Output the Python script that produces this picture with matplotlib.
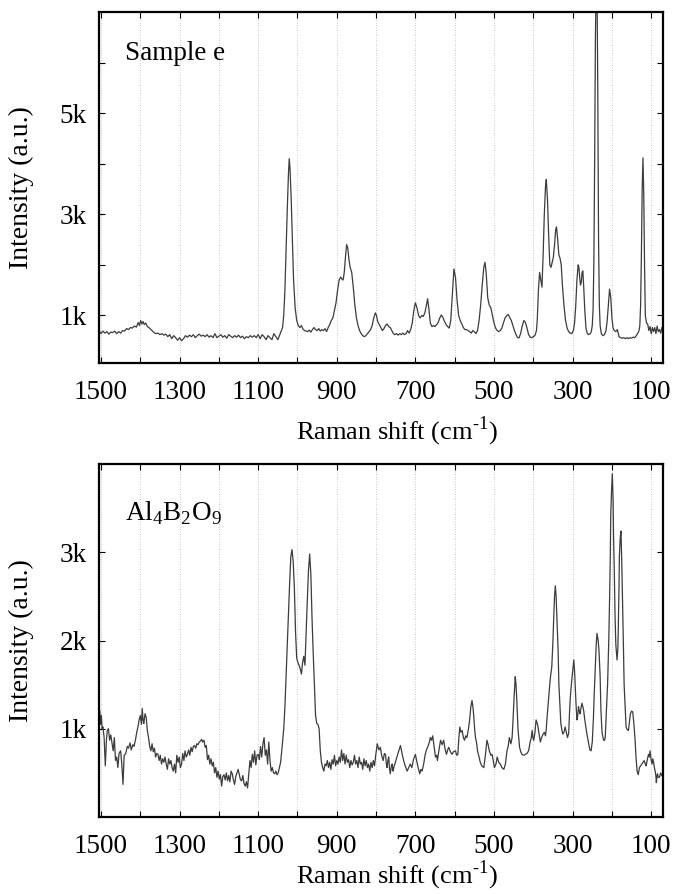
#!/usr/bin/env python
# -*- coding: utf-8 -*-
import numpy as np
import matplotlib
matplotlib.use('Agg')
import matplotlib.pyplot as plt
import matplotlib.ticker as tck

## ---------------------------- DATOS ---------------------------- ##

# Espectro superior: Sample e  (desplazamiento Raman cm-1, intensidad u.a.)
shift_e = [1505, 1500, 1495, 1490, 1485, 1480, 1475, 1470, 1465, 1460, 1455, 1450, 1445, 1440,
           1435, 1430, 1425, 1420, 1415, 1410, 1405, 1402, 1399, 1396, 1393, 1390, 1386, 1382, 1378, 1374, 1370, 1365, 1360,
           1355, 1350, 1345, 1340, 1335, 1330, 1325, 1320, 1315, 1310, 1305, 1300, 1295, 1290, 1285, 1280, 1275, 1270, 1265, 1260,
           1255, 1250, 1245, 1240, 1235, 1230, 1225, 1220, 1215, 1210, 1205, 1200, 1195, 1190, 1185, 1180, 1175, 1170, 1165, 1160,
           1155, 1150, 1145, 1140, 1135, 1130, 1125, 1120, 1115, 1110, 1105, 1100, 1095, 1090, 1085, 1080, 1075, 1070, 1065, 1060,
           1055, 1050,
           1046, 1042, 1038, 1035, 1032, 1029, 1026, 1023, 1021, 1019, 1016, 1013, 1010, 1006, 1002, 998,
           994, 990, 986, 982, 978, 974, 970, 966, 962, 958, 954, 950, 946, 942, 938, 934, 930, 926, 922, 918,
           914, 910, 906, 902, 898, 894, 890, 887, 884, 881, 878, 875, 872, 869, 866, 862, 858, 854, 850, 846, 842, 838, 834, 830,
           826, 822, 818, 814, 810, 806, 802, 799, 796, 792, 788, 784, 780, 776, 772, 768, 764, 760, 756, 752,
           748, 744, 740, 736, 732, 728, 724, 720, 716, 712,
           708, 704, 700, 696, 692, 688, 684, 680, 676, 672, 669, 666, 662, 658, 654, 650, 646, 642, 638, 634,
           630, 626, 622, 618, 614, 610, 606, 602, 598, 594, 590, 586, 582, 578, 574, 570, 566, 562, 558, 554, 550, 546, 542,
           538, 534, 530, 526, 523, 520, 516, 512, 508, 504, 500, 496, 492, 488, 484, 480, 476, 472, 468, 464,
           460, 456, 452, 448, 444, 440, 436, 432, 428, 424, 420, 416, 412, 408, 404, 400, 396,
           392, 390, 387, 384, 381, 378, 375, 372, 369, 367, 364, 361, 358, 355, 352, 349, 346, 343, 341, 338,
           335, 332, 329, 326, 322, 318, 314, 310, 306, 302,
           298, 295, 292, 289, 286, 284, 282, 280, 278, 276, 274, 272, 269, 266, 263, 260, 257, 254, 252,
           250, 248, 246, 244, 242, 240, 238, 236, 234, 232, 230,
           227, 223, 219, 215, 212, 209, 206, 203, 200, 197, 194, 190, 186, 182, 178, 174, 170, 166, 162, 158,
           154, 150, 146, 142, 138, 134,
           131, 129, 127, 125, 123, 121, 119, 117, 115, 112, 109, 106, 103, 100, 97, 94, 91, 88, 85, 82,
           79, 76, 73, 70]
inten_e = [700, 640, 690, 650, 680, 630, 670, 660, 690, 640, 680, 650, 700, 690,
           740, 720, 760, 750, 790, 770, 860, 800, 900, 830, 880, 820, 850, 780, 760, 730, 700, 660, 640,
           650, 620, 640, 610, 630, 580, 620, 540, 600, 560, 510, 560, 500, 540, 600, 570, 610, 580, 620, 560,
           600, 630, 590, 610, 580, 620, 570, 600, 560, 640, 560, 590, 620, 570, 600, 550, 620, 590, 560, 600,
           570, 610, 560, 590, 540, 580, 560, 600, 570, 600, 560, 620, 540, 620, 580, 520, 600, 560, 520, 640,
           580, 520,
           600, 680, 760, 1000, 1500, 2300, 3100, 3800, 4100, 3900, 3300, 2500, 1700, 1150, 900, 800,
           760, 800, 730, 700, 690, 680, 710, 670, 720, 760, 720, 700, 740, 690, 720, 700, 740, 680, 760, 820,
           900, 950, 1100, 1250, 1500, 1700, 1760, 1720, 1700, 1850, 2150, 2400, 2330, 2100, 1950, 1850, 1550, 1200, 950, 800,
           700, 640, 600, 580,
           600, 640, 680, 720, 800, 950, 1050, 1000, 880, 820, 760, 700, 740, 800, 830, 780, 760, 700, 640, 620,
           640, 610, 640, 620, 650, 620, 640, 700, 650, 720,
           850, 1100, 1250, 1150, 1000, 950, 1000, 980, 1050, 1200, 1330, 1150, 850, 780, 800, 780, 820, 860, 950, 1010,
           960, 880, 820, 780, 750, 900, 1400, 1920, 1750, 1300, 1000, 900, 830, 760, 720, 720, 700, 680, 650, 700, 680, 640, 700,
           900, 1200, 1600, 1950, 2050, 1850, 1350, 1200, 1150, 1000, 850, 750, 700, 680, 700, 750, 850, 950, 990, 1020,
           960, 900, 800, 700, 620, 560, 560, 650, 800, 900, 860, 750, 620, 570, 560, 580, 600,
           700, 900, 1500, 1850, 1700, 1560, 2200, 3000, 3550, 3690, 3300, 2600, 2000, 1950, 2050, 2150, 2400, 2700, 2750, 2500,
           2200, 2130, 2000, 1600, 1200, 900, 750, 680, 650, 640,
           700, 850, 1200, 1700, 2000, 1950, 1750, 1600, 1650, 1850, 1880, 1600, 1100, 750, 650, 620, 630, 650, 700,
           800, 1100, 2000, 4000, 6500, 7600, 7600, 5500, 2500, 1200, 800,
           640, 600, 620, 700, 900, 1200, 1520, 1350, 950, 750, 700, 680, 720, 580, 560, 550, 560, 540, 560, 540,
           560, 550, 570, 560, 600, 650,
           700, 800, 1200, 2200, 3500, 4115, 3400, 2000, 1000, 850, 830, 700, 780, 640, 760, 680, 760, 640, 790, 680,
           720, 650, 760, 720]

# Espectro inferior: Al4B2O9
shift_ab = [1503, 1501, 1499, 1497, 1495, 1492, 1489, 1486, 1484, 1481, 1478, 1475, 1472, 1469, 1466, 1463, 1460, 1457, 1454, 1450,
            1447, 1444, 1441,
            1437, 1433, 1430, 1426, 1423, 1419, 1416, 1412, 1409, 1406, 1403, 1400, 1397, 1395, 1393, 1391, 1388, 1385, 1382, 1379,
            1376, 1373, 1370, 1367, 1364, 1361, 1358, 1355, 1352, 1349, 1346, 1343, 1340,
            1337, 1334, 1331, 1328, 1325, 1322, 1319, 1316, 1313, 1310, 1307, 1304, 1301, 1298, 1295, 1292, 1289, 1286, 1283, 1280,
            1277, 1274, 1271, 1268, 1265, 1262, 1259, 1256, 1253, 1250,
            1247, 1244, 1241, 1238, 1235, 1232, 1229, 1226, 1223, 1220, 1217, 1214, 1211, 1208, 1205, 1202, 1199, 1196, 1193, 1190,
            1187, 1184, 1181,
            1178, 1175, 1172, 1169, 1166, 1163, 1160, 1157, 1154, 1151, 1148, 1145, 1142, 1139, 1136, 1133, 1130, 1127, 1124, 1121,
            1118, 1115, 1112, 1109, 1106, 1103, 1100, 1097, 1094, 1091, 1088, 1085, 1082, 1079, 1076, 1073, 1070, 1067, 1064, 1061,
            1058, 1055, 1052, 1049, 1046,
            1043, 1039, 1035, 1032, 1029, 1026, 1023, 1020, 1017, 1014, 1011, 1008, 1005, 1002, 999, 996, 993, 990, 987, 984,
            981, 978, 975, 972, 969, 966, 963, 960, 957, 954, 951, 948, 945, 942, 939,
            936, 933, 930, 927, 924, 921, 918, 915, 912, 909, 906, 903, 900, 897, 894, 891, 888, 885, 882, 879,
            876, 873, 870, 867, 864, 861, 858, 855, 852, 849, 846, 843, 840, 837, 834, 831, 828, 825, 822, 819,
            816, 813, 810, 807, 804, 801,
            797, 793, 789, 786, 782, 779, 776, 774, 772, 770, 768, 766, 764, 761, 759, 757, 755, 751, 747, 743,
            738, 734, 730, 726, 721, 717, 713, 709, 705, 700,
            696, 693, 689, 686, 683, 679, 675, 672, 669, 665, 662, 659, 656, 652, 649, 646, 644, 640, 636, 632,
            628, 625, 621, 618, 615, 611, 607, 603, 598, 595, 592, 590, 587, 584, 581, 578, 575, 572, 569, 565, 562,
            559, 556, 554, 552, 549, 547, 544, 542, 538, 535, 531, 526, 522, 518, 515, 512, 508, 505, 502, 499,
            495, 492, 488, 484, 480, 475, 471,
            467, 464, 461, 457, 454, 452, 449, 446, 444, 442, 439, 435, 432, 429, 425, 420, 416, 412, 408, 405, 403, 401,
            399, 396, 393, 390, 388, 385, 382, 379, 375, 372, 369, 367, 365, 362, 360, 358, 356, 353, 350, 348,
            346, 344, 342, 340, 337, 335, 332, 330, 327, 325, 322, 319, 316, 313, 310, 308, 306, 303,
            300, 297, 295, 293, 291, 289, 287, 285, 283, 281, 279, 276, 274, 272, 269, 265, 262, 259, 256, 253,
            250, 247, 245, 242, 240, 238, 235, 233, 230, 228, 225, 221, 219, 217, 215, 213,
            211, 208, 206, 204, 203, 201, 199, 197, 196, 194, 192, 190, 187, 185, 184, 182, 181, 179, 177, 175,
            173, 171, 169, 166, 164, 161, 158, 155, 153, 150, 147, 144, 141, 139, 136, 133, 130,
            127, 124, 121, 118, 115, 113, 110, 107, 105, 103, 100, 98, 96, 94, 92, 90, 88, 87, 85, 84,
            82, 79, 76, 73, 70]
inten_ab = [1200, 1050, 1150, 1000, 1020, 900, 580, 880, 980, 1000, 870, 930, 840, 750, 900, 640, 680, 560, 720, 750,
            600, 370, 700,
            720, 800, 780, 840, 760, 820, 800, 880, 960, 1020, 1100, 1150, 1050, 1230, 1100, 1060, 1170, 1130, 980, 900,
            800, 750, 830, 740, 780, 680, 720, 710, 640, 700, 600, 660, 620,
            680, 600, 540, 660, 600, 640, 560, 520, 600, 500, 700, 620, 680, 560, 600, 720, 640, 750, 680, 710,
            760, 700, 790, 740, 800, 810, 780, 830, 820, 850,
            860, 880, 850, 870, 790, 810, 650, 700, 600, 660, 580, 620, 500, 560, 450, 520, 430, 480, 350, 460,
            480, 420, 500,
            410, 470, 400, 520, 490, 420, 370, 460, 500, 540, 480, 420, 410, 470, 380, 350, 400, 330, 480, 640,
            560, 710, 620, 750, 590, 700, 710, 650, 800, 680, 830, 900, 700, 760, 600, 850, 640, 520, 560, 500,
            490, 520, 480, 500, 560,
            620, 800, 1000, 1250, 1600, 1950, 2300, 2650, 2950, 3030, 2900, 2600, 2100, 1800, 1750, 1720, 1680, 1620, 1750, 1820,
            1720, 2100, 2460, 2800, 2980, 2750, 2250, 1850, 1500, 1150, 1060, 1050, 1000, 750, 620,
            560, 520, 600, 580, 640, 560, 620, 540, 650, 600, 700, 580, 640, 600, 680, 620, 760, 640, 720, 600,
            700, 620, 650, 560, 640, 590, 620, 700, 600, 640, 560, 680, 600, 620, 540, 660, 580, 640, 560, 600,
            520, 620, 560, 640, 580, 700,
            830, 760, 790, 700, 640, 720, 710, 600, 560, 640, 680, 560, 490, 580, 600, 520, 560, 620, 680, 740,
            810, 720, 640, 580, 520, 560, 600, 560, 650, 710,
            620, 560, 490, 540, 520, 600, 710, 760, 790, 840, 900, 870, 920, 780, 680, 700, 640, 760, 870, 820,
            870, 780, 710, 760, 790, 740, 710, 740, 750, 700, 710, 860, 1020, 960, 980, 900, 870, 920, 900, 1000, 1100,
            1250, 1320, 1260, 1170, 980, 900, 830, 750, 680, 620, 580, 560, 700, 870, 820, 750, 700, 710, 640, 560,
            600, 680, 620, 600, 560, 540, 600,
            750, 800, 900, 830, 900, 1060, 1350, 1590, 1500, 1320, 1000, 790, 740, 710, 700, 710, 720, 750, 850, 900, 980, 900,
            870, 950, 1100, 1060, 1020, 930, 850, 900, 940, 960, 920, 1000, 1130, 1300, 1400, 1510, 1600, 1700, 2000, 2270,
            2500, 2620, 2500, 2270, 1900, 1510, 1250, 1060, 980, 940, 960, 1020, 960, 900, 950, 1170, 1350, 1510,
            1650, 1780, 1650, 1440, 1250, 1100, 1150, 1250, 1200, 1170, 1230, 1290, 1250, 1210, 1100, 980, 900, 830, 760, 750,
            850, 1130, 1400, 1740, 1950, 2080, 2000, 1890, 1600, 1210, 950, 870, 870, 900, 1100, 1300,
            1510, 2000, 2460, 3000, 3410, 3700, 3890, 3600, 3220, 2800, 2270, 1950, 1780, 1900, 2080, 2600, 2960, 3150, 3240, 2900,
            2460, 2000, 1510, 1200, 1020, 990, 980, 1100, 1170, 1200, 1190, 1050, 870, 700, 520, 480, 560,
            580, 600, 620, 640, 600, 580, 650, 710, 680, 750, 640, 600, 660, 620, 560, 520, 460, 390, 470, 490,
            450, 450, 500, 470, 460]

# Ejes y etiquetas
x_major = [1500, 1300, 1100, 900, 700, 500, 300, 100]
x_minor = [1400, 1200, 1000, 800, 600, 400, 200]
x_labels = ['1500', '1300', '1100', '900', '700', '500', '300', '100']

y_major_e = [1000, 3000, 5000]
y_minor_e = [2000, 4000, 6000]
y_labels_e = ['1k', '3k', '5k']

y_major_ab = [1000, 2000, 3000]
y_labels_ab = ['1k', '2k', '3k']

## ------------------------------------ FIGURA ------------------------------------ ##

plt.rcParams['font.family'] = 'Liberation Serif'
plt.rcParams['mathtext.fontset'] = 'custom'
plt.rcParams['mathtext.rm'] = 'Liberation Serif'

fig = plt.figure(figsize=[6.74, 8.94], dpi=100)
ax1 = fig.add_axes([0.1469, 0.594, 0.8368, 0.3926])
ax2 = fig.add_axes([0.1469, 0.0861, 0.8368, 0.3949])


def estilo(ax, ylim, ymaj, ylab, ymin, xlab_y):
    ax.set_xlim(1505, 70)
    ax.set_ylim(ylim)
    ax.xaxis.set_major_locator(tck.FixedLocator(x_major))
    ax.xaxis.set_major_formatter(tck.FixedFormatter(x_labels))
    ax.xaxis.set_minor_locator(tck.FixedLocator(x_minor))
    ax.yaxis.set_major_locator(tck.FixedLocator(ymaj))
    ax.yaxis.set_major_formatter(tck.FixedFormatter(ylab))
    ax.yaxis.set_minor_locator(tck.FixedLocator(ymin))
    ax.grid(True, which='both', axis='x', color='#b8b8b8', linestyle=(0, (1, 2)), linewidth=0.6)
    ax.tick_params(which='both', direction='in', top=True, right=True, length=4, width=0.8)
    ax.tick_params(axis='x', which='major', pad=12, labelsize=19.5)
    ax.tick_params(axis='y', which='major', pad=9, labelsize=19.5)
    for s in ax.spines.values():
        s.set_linewidth(1.6)
    ax.set_xlabel(u'Raman shift (cm$^{\\text{-1}}$)', fontsize=19)
    ax.xaxis.set_label_coords(0.528, xlab_y)
    ax.set_ylabel(u'Intensity (a.u.)', fontsize=20)
    ax.yaxis.set_label_coords(-0.115, 0.5)


ax1.plot(shift_e, inten_e, color='#3c3c3c', linewidth=0.9)
estilo(ax1, (60, 7000), y_major_e, y_labels_e, y_minor_e, -0.148)
ax1.text(0.046, 0.883, u'Sample e', transform=ax1.transAxes, fontsize=19.5, va='center')

ax2.plot(shift_ab, inten_ab, color='#3c3c3c', linewidth=0.9)
estilo(ax2, (0, 4000), y_major_ab, y_labels_ab, [], -0.118)
ax2.text(0.046, 0.861, u'Al$_\\mathregular{4}$B$_\\mathregular{2}$O$_\\mathregular{9}$',
         transform=ax2.transAxes, fontsize=19.5, va='center')

plt.savefig('out.png', dpi=100)
